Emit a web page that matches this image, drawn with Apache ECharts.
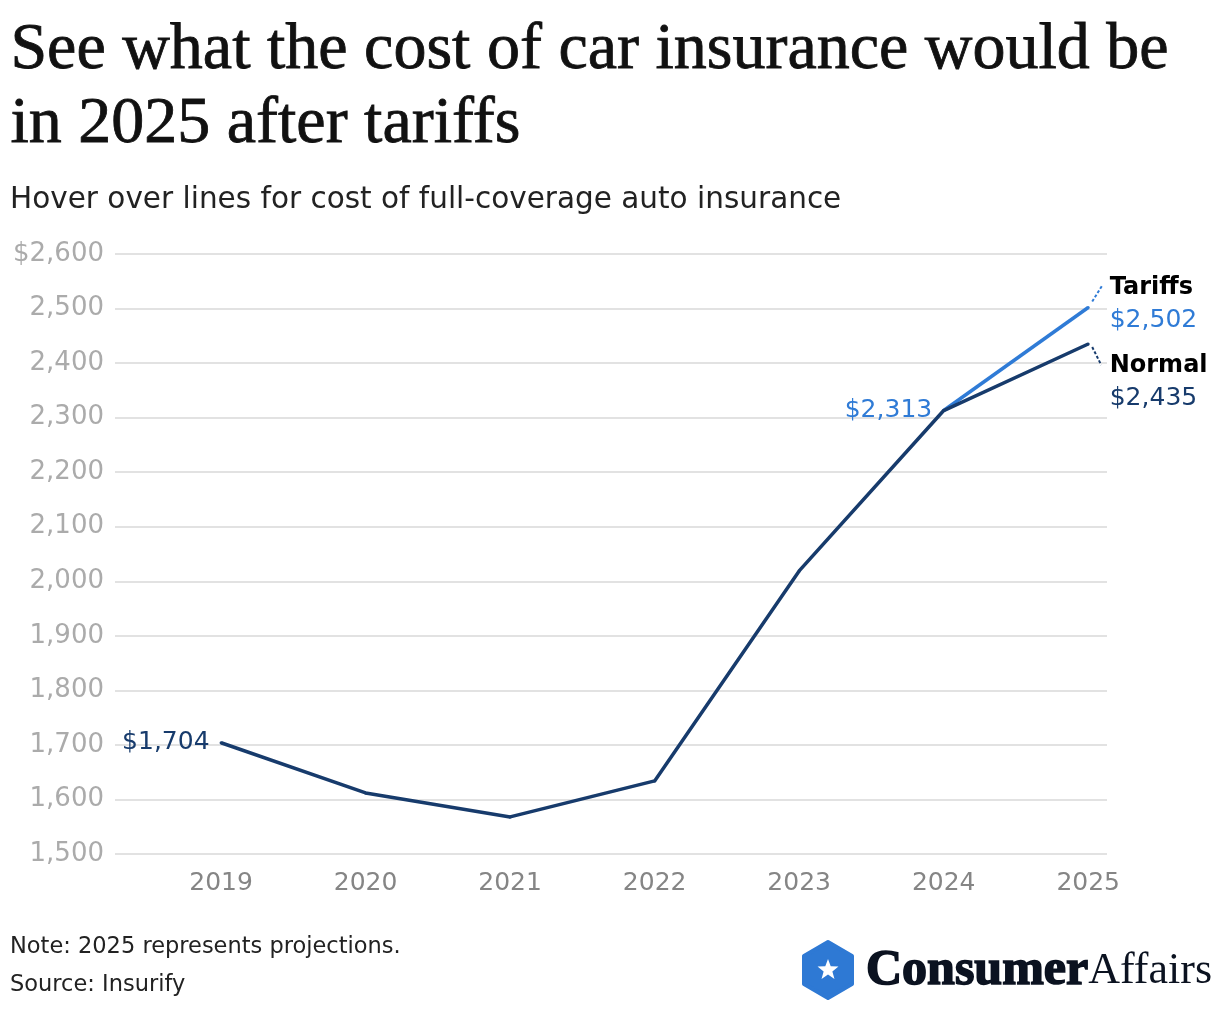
<!DOCTYPE html>
<html><head><meta charset="utf-8">
<script src="https://cdn.jsdelivr.net/npm/echarts@6/dist/echarts.min.js"></script>
<style>html,body{margin:0;padding:0;background:#fff}#c{width:1220px;height:1010px}</style>
</head><body><div id="c"></div>
<script>
const years = [2019, 2020, 2021, 2022, 2023, 2024, 2025];
const normalValues = [1704, 1612, 1568, 1634, 2019, 2313, 2435];
const tariffYears = [2024, 2025];
const tariffValues = [2313, 2502];
const yTicks = [1500, 1600, 1700, 1800, 1900, 2000, 2100, 2200, 2300, 2400, 2500, 2600];
const titleText = 'See what the cost of car insurance would be\nin 2025 after tariffs';
const subtitleText = 'Hover over lines for cost of full-coverage auto insurance';
const noteText = 'Note: 2025 represents projections.';
const sourceText = 'Source: Insurify';

const NAVY = '#173b6c', BLUE = '#2f7bd6';
const SANS = '"DejaVu Sans"';
const fmt = v => '$' + v.toLocaleString('en-US');

const chart = echarts.init(document.getElementById('c'), null, {renderer: 'canvas'});

function starPoints(cx, cy, R, r) {
  const pts = [];
  for (let i = 0; i < 10; i++) {
    const a = -Math.PI / 2 + i * Math.PI / 5;
    const rad = i % 2 === 0 ? R : r;
    pts.push([cx + rad * Math.cos(a), cy + rad * Math.sin(a)]);
  }
  return pts;
}

const richEnd = (col) => ({
  b: {fontFamily: SANS, fontWeight: 'bold', fontSize: 24, color: '#000', lineHeight: 33},
  v: {fontFamily: SANS, fontSize: 25, color: col, lineHeight: 33}
});

const normalData = years.map((y, i) => {
  const d = {value: [y, normalValues[i]]};
  if (i === 0) d.label = {show: true, position: 'left', distance: 10, formatter: fmt(normalValues[i]), color: NAVY, fontSize: 25, fontFamily: SANS};
  if (i === years.length - 1) d.label = {
    show: true, position: 'right', distance: 20, offset: [0, 38],
    formatter: '{b|Normal}\n{v|' + fmt(normalValues[i]) + '}', rich: richEnd(NAVY)
  };
  return d;
});
const tariffData = tariffYears.map((y, i) => {
  const d = {value: [y, tariffValues[i]]};
  if (i === 0) d.label = {show: true, position: 'left', distance: 10, formatter: fmt(tariffValues[i]), color: BLUE, fontSize: 25, fontFamily: SANS};
  if (i === 1) d.label = {
    show: true, position: 'right', distance: 20, offset: [0, -3],
    formatter: '{b|Tariffs}\n{v|' + fmt(tariffValues[i]) + '}', rich: richEnd(BLUE)
  };
  return d;
});

const option = {
  animation: false,
  grid: {left: 115, right: 113, top: 254, bottom: 156, containLabel: false},
  xAxis: {
    type: 'value', min: 2018.266, max: 2025.13,
    axisLine: {show: false}, axisTick: {show: false}, splitLine: {show: false},
    axisLabel: {customValues: years, formatter: v => String(v), color: '#858585', fontSize: 25, fontFamily: SANS, margin: 17}
  },
  yAxis: {
    type: 'value', min: 1500, max: 2600, interval: 100,
    axisLine: {show: false}, axisTick: {show: false},
    splitLine: {lineStyle: {color: '#e2e2e2', width: 2}},
    axisLabel: {formatter: v => v === 2600 ? fmt(v) : v.toLocaleString('en-US'), color: '#ababab', fontSize: 26, fontFamily: SANS, margin: 11}
  },
  series: [
    {type: 'line', data: tariffData, symbol: 'circle', symbolSize: 3, showSymbol: true, itemStyle: {color: BLUE}, lineStyle: {color: BLUE, width: 3.5}, z: 2, silent: true},
    {type: 'line', data: normalData, symbol: 'circle', symbolSize: 3, showSymbol: true, itemStyle: {color: NAVY}, lineStyle: {color: NAVY, width: 3.5}, z: 3, silent: true}
  ]
};
chart.setOption(option);

// dotted connectors from line ends to labels
const pT = chart.convertToPixel({gridIndex: 0}, [tariffYears[1], tariffValues[1]]);
const pN = chart.convertToPixel({gridIndex: 0}, [years[6], normalValues[6]]);

chart.setOption({graphic: [
  {id: 'title', type: 'text', left: 10, top: 14, style: {text: titleText, font: '66px "Liberation Serif"', fill: '#111', stroke: '#111', lineWidth: 0.8, lineHeight: 74}},
  {id: 'sub', type: 'text', left: 10, top: 185, style: {text: subtitleText, font: '29.5px ' + SANS, fill: '#222'}},
  {id: 'note', type: 'text', left: 10, top: 936, style: {text: noteText, font: '22.5px ' + SANS, fill: '#222'}},
  {id: 'src', type: 'text', left: 10, top: 974, style: {text: sourceText, font: '22.5px ' + SANS, fill: '#222'}},
  {id: 'hex', type: 'polygon', shape: {points: [[828, 942], [852, 956], [852, 984], [828, 998], [804, 984], [804, 956]]}, style: {fill: '#2e79d4', stroke: '#2e79d4', lineWidth: 4, lineJoin: 'round'}},
  {id: 'star', type: 'polygon', shape: {points: starPoints(828, 970, 11, 4.6)}, style: {fill: '#fff'}},
  {id: 'logo', type: 'text', x: 866, y: 971, style: {
    text: '{b|Consumer}{r|Affairs}', verticalAlign: 'middle',
    rich: {
      b: {font: 'bold 50px "Liberation Serif"', fill: '#0b1220', stroke: '#0b1220', lineWidth: 1.6},
      r: {font: '44px "Liberation Serif"', fill: '#0b1220'}
    }
  }},
  {id: 'cT', type: 'line', shape: {x1: pT[0] + 4, y1: pT[1] - 6, x2: pT[0] + 14, y2: pT[1] - 22}, style: {stroke: BLUE, lineWidth: 2, lineDash: [3, 2]}},
  {id: 'cN', type: 'line', shape: {x1: pN[0] + 4, y1: pN[1] + 3, x2: pN[0] + 13, y2: pN[1] + 21}, style: {stroke: NAVY, lineWidth: 2, lineDash: [3, 2]}}
]});
</script></body></html>
